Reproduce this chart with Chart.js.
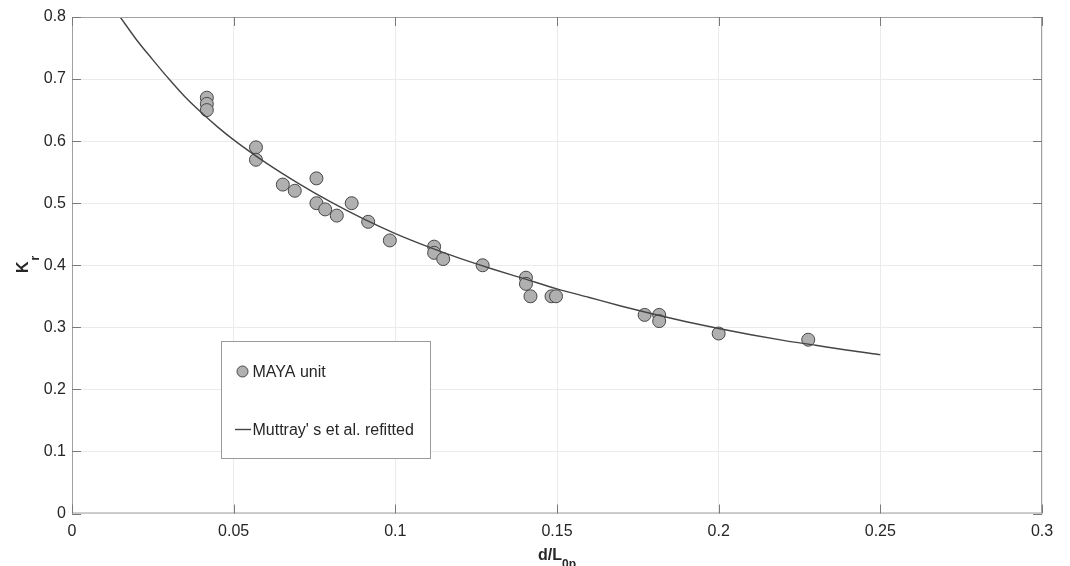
<!DOCTYPE html>
<html><head><meta charset="utf-8">
<script src="https://cdn.jsdelivr.net/npm/chart.js@4/dist/chart.umd.min.js"></script>
<style>html,body{margin:0;padding:0;background:#fff}canvas{display:block}</style>
</head><body>
<canvas id="c" width="1070" height="566"></canvas>
<script>
// ---- data ----
const mayaX = [0.0417,0.0417,0.0417,0.0569,0.0569,0.0652,0.0689,0.0756,0.0756,0.0783,0.0819,0.0865,0.0916,0.0983,0.1120,0.1120,0.1148,0.1270,0.1404,0.1404,0.1418,0.1483,0.1497,0.1771,0.1816,0.1816,0.2000,0.2277];
const mayaY = [0.67,0.66,0.65,0.59,0.57,0.53,0.52,0.54,0.50,0.49,0.48,0.50,0.47,0.44,0.43,0.42,0.41,0.40,0.38,0.37,0.35,0.35,0.35,0.32,0.32,0.31,0.29,0.28];
const fitX = [0.0149,0.02,0.025,0.03,0.035,0.04,0.045,0.05,0.06,0.07,0.08,0.09,0.10,0.11,0.12,0.13,0.14,0.15,0.16,0.17,0.18,0.19,0.20,0.21,0.22,0.23,0.24,0.25];
const fitY = [0.800,0.763,0.731,0.700,0.671,0.646,0.623,0.602,0.565,0.532,0.502,0.475,0.451,0.430,0.411,0.394,0.378,0.362,0.348,0.334,0.321,0.309,0.298,0.288,0.279,0.271,0.263,0.256];
const xTickValues = [0,0.05,0.1,0.15,0.2,0.25,0.3];
const xTickLabels = ['0','0.05','0.1','0.15','0.2','0.25','0.3'];
const yTickValues = [0,0.1,0.2,0.3,0.4,0.5,0.6,0.7,0.8];
const yTickLabels = ['0','0.1','0.2','0.3','0.4','0.5','0.6','0.7','0.8'];
const legendLabels = ['MAYA unit', "Muttray' s et al. refitted"];
const xTitle = ['d/L', '0p'];
const yTitle = ['K', 'r'];

const FONT = "'Liberation Sans', Arial, Helvetica, sans-serif";
const TXT = '#262626';
const AXIS = '#a0a0a0';

const decor = {
  id: 'decor',
  afterDraw(chart) {
    const ctx = chart.ctx, a = chart.chartArea;
    const xs = chart.scales.x, ys = chart.scales.y;
    ctx.save();
    // box
    ctx.strokeStyle = AXIS; ctx.lineWidth = 1;
    ctx.strokeRect(a.left + 0.5, a.top + 0.5, a.right - a.left - 1, a.bottom - a.top - 1);
    // inward ticks
    ctx.strokeStyle = '#7a7a7a';
    const tl = 9;
    ctx.beginPath();
    xTickValues.forEach(v => {
      const px = Math.round(xs.getPixelForValue(v)) + 0.5;
      ctx.moveTo(px, a.bottom); ctx.lineTo(px, a.bottom - tl);
      ctx.moveTo(px, a.top); ctx.lineTo(px, a.top + tl);
    });
    yTickValues.forEach(v => {
      const py = Math.round(ys.getPixelForValue(v)) + 0.5;
      ctx.moveTo(a.left, py); ctx.lineTo(a.left + tl, py);
      ctx.moveTo(a.right, py); ctx.lineTo(a.right - tl, py);
    });
    ctx.stroke();

    // axis titles
    ctx.fillStyle = TXT;
    ctx.textBaseline = 'alphabetic';
    ctx.textAlign = 'left';
    const big = 'bold 16px ' + FONT, small = 'bold 12px ' + FONT;
    // x title
    ctx.font = big; const w1 = ctx.measureText(xTitle[0]).width;
    ctx.font = small; const w2 = ctx.measureText(xTitle[1]).width;
    let sx = (a.left + a.right) / 2 - (w1 + w2) / 2;
    const by = 560;
    ctx.font = big; ctx.fillText(xTitle[0], sx, by);
    ctx.font = small; ctx.fillText(xTitle[1], sx + w1, by + 8);
    // y title
    ctx.save();
    ctx.translate(28, 273);
    ctx.rotate(-Math.PI / 2);
    ctx.font = big; const k1 = ctx.measureText(yTitle[0]).width;
    ctx.font = big; ctx.fillText(yTitle[0], 0, 0);
    ctx.font = small; ctx.fillText(yTitle[1], k1 + 1, 11);
    ctx.restore();

    // legend box
    const L = 221.5, T = 341.5, R = 430.5, B = 458.5;
    ctx.fillStyle = '#ffffff';
    ctx.fillRect(L, T, R - L, B - T);
    ctx.strokeStyle = '#9a9a9a'; ctx.lineWidth = 1;
    ctx.strokeRect(L, T, R - L, B - T);
    const ds0 = chart.data.datasets[1], ds1 = chart.data.datasets[0];
    // marker
    ctx.beginPath();
    ctx.arc(242.5, 371.5, 5.5, 0, Math.PI * 2);
    ctx.fillStyle = ds0.backgroundColor; ctx.fill();
    ctx.strokeStyle = ds0.borderColor; ctx.lineWidth = 1; ctx.stroke();
    // line
    ctx.beginPath();
    ctx.moveTo(235, 429.5); ctx.lineTo(251, 429.5);
    ctx.strokeStyle = ds1.borderColor; ctx.lineWidth = 1.4; ctx.stroke();
    ctx.fillStyle = TXT; ctx.font = '16px ' + FONT; ctx.textBaseline = 'middle';
    ctx.fillText(legendLabels[0], 252.5, 372.5);
    ctx.fillText(legendLabels[1], 252.5, 430.5);
    ctx.restore();
  }
};

new Chart(document.getElementById('c'), {
  type: 'scatter',
  data: {
    datasets: [
      {
        type: 'line',
        label: legendLabels[1],
        data: fitX.map((x, i) => ({ x: x, y: fitY[i] })),
        borderColor: '#454545',
        borderWidth: 1.4,
        pointRadius: 0,
        fill: false,
        cubicInterpolationMode: 'monotone',
        order: 0
      },
      {
        type: 'scatter',
        label: legendLabels[0],
        data: mayaX.map((x, i) => ({ x: x, y: mayaY[i] })),
        backgroundColor: '#b0b0b0',
        borderColor: '#474747',
        borderWidth: 1,
        pointRadius: 6.5,
        order: 1
      }
    ]
  },
  options: {
    responsive: false,
    animation: false,
    devicePixelRatio: 1,
    layout: { padding: { top: 17, right: 28, left: 0, bottom: 0 } },
    plugins: { legend: { display: false }, tooltip: { enabled: false } },
    scales: {
      x: {
        type: 'linear', min: 0, max: 0.3,
        afterBuildTicks: s => { s.ticks = xTickValues.map(v => ({ value: v })); },
        afterFit: s => { s.height = 52.5; },
        ticks: {
          callback: (v, i) => xTickLabels[i],
          font: { family: FONT, size: 16 }, color: TXT, padding: 8, maxRotation: 0, autoSkip: false
        },
        grid: { color: '#ebebeb', drawTicks: false },
        border: { display: false }
      },
      y: {
        type: 'linear', min: 0, max: 0.8,
        afterBuildTicks: s => { s.ticks = yTickValues.map(v => ({ value: v })); },
        afterFit: s => { s.width = 72; },
        ticks: {
          callback: (v, i) => yTickLabels[i],
          font: { family: FONT, size: 16 }, color: TXT, padding: 6, autoSkip: false
        },
        grid: { color: '#ebebeb', drawTicks: false },
        border: { display: false }
      }
    }
  },
  plugins: [decor]
});
</script>
</body></html>
